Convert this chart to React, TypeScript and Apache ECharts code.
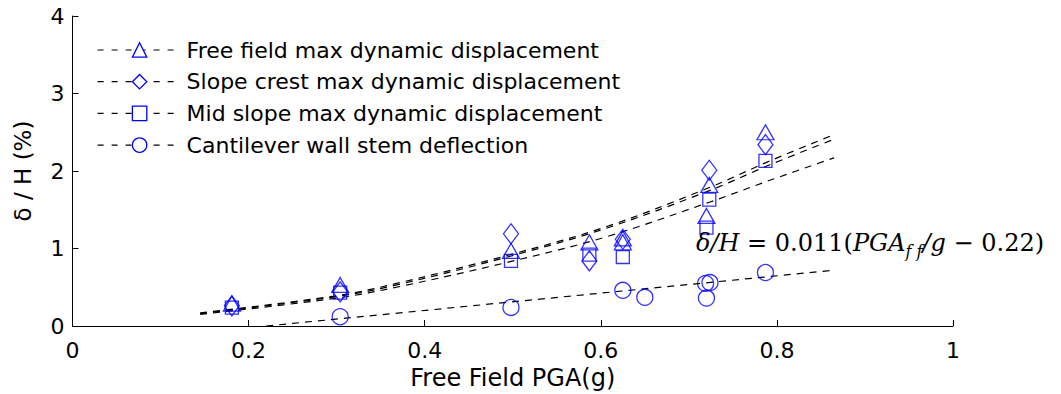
import React, { useEffect, useRef } from 'react';
import * as echarts from 'echarts';

const seriesNames = [
  'Free field max dynamic displacement',
  'Slope crest max dynamic displacement',
  'Mid slope max dynamic displacement',
  'Cantilever wall stem deflection',
];
const seriesSymbols = ['triangle', 'diamond', 'rect', 'circle'];
const xTickLabels = ['0', '0.2', '0.4', '0.6', '0.8', '1'];
const yTickLabels = ['0', '1', '2', '3', '4'];

// measured points (PGA in g, delta/H in %)
const freeFieldPGA = [0.181, 0.304, 0.498, 0.587, 0.625, 0.625, 0.7232, 0.72, 0.787];
const freeFieldDisp = [0.29, 0.53, 0.97, 1.08, 1.13, 1.08, 1.82, 1.42, 2.5];
const slopeCrestPGA = [0.181, 0.304, 0.498, 0.587, 0.625, 0.7232, 0.787];
const slopeCrestDisp = [0.26, 0.44, 1.19, 0.84, 1.12, 2.01, 2.34];
const midSlopePGA = [0.181, 0.304, 0.498, 0.587, 0.625, 0.7232, 0.72, 0.787];
const midSlopeDisp = [0.236, 0.43, 0.84, 0.92, 0.89, 1.63, 1.27, 2.13];
const cantileverPGA = [0.304, 0.498, 0.625, 0.65, 0.719, 0.724, 0.72, 0.787];
const cantileverDisp = [0.12, 0.24, 0.46, 0.37, 0.55, 0.56, 0.36, 0.69];

// fitted trend curves
const fitPGA = [0.145, 0.3, 0.372, 0.497, 0.606, 0.724, 0.792, 0.865];
const freeFieldFit = [0.17, 0.39, 0.56, 0.92, 1.28, 1.79, 2.13, 2.47];
const slopeCrestFit = [0.16, 0.38, 0.54, 0.9, 1.26, 1.75, 2.08, 2.41];
const midSlopeFit = [0.15, 0.36, 0.51, 0.83, 1.15, 1.6, 1.88, 2.17];
const cantileverFitPGA = [0.22, 0.865];
const cantileverFit = [0, 0.72];

const symbolSizes: any[] = [[17, 15], [15, 20], [13, 13], [16, 16]];
const BLUE = '#0000ff';
const FONT = 'DejaVu Sans';
const SERIF = 'DejaVu Serif';

const zip = (xs: number[], ys: number[]) => xs.map((x, i) => [x, ys[i]]);

export default function App() {
  const ref = useRef<HTMLDivElement>(null);
  useEffect(() => {
    if (!ref.current) return;
    const chart = echarts.init(ref.current, null, { renderer: 'svg' });
    const fits = [
      zip(fitPGA, freeFieldFit),
      zip(fitPGA, slopeCrestFit),
      zip(fitPGA, midSlopeFit),
      zip(cantileverFitPGA, cantileverFit),
    ];
    const points = [
      zip(freeFieldPGA, freeFieldDisp),
      zip(slopeCrestPGA, slopeCrestDisp),
      zip(midSlopePGA, midSlopeDisp),
      zip(cantileverPGA, cantileverDisp),
    ];
    const lineSeries = seriesNames.map((name, i) => ({
      name,
      type: 'line',
      data: fits[i],
      smooth: i < 3 ? 0.35 : false,
      showSymbol: false,
      symbol: seriesSymbols[i],
      symbolSize: 14,
      silent: true,
      z: 1,
      itemStyle: { color: 'transparent', borderColor: BLUE, borderWidth: 1.2 },
      lineStyle: { color: '#000', width: 1.2, type: [7, 6] },
    }));
    const scatterSeries = seriesNames.map((name, i) => ({
      name,
      type: 'scatter',
      data: points[i],
      symbol: seriesSymbols[i],
      symbolSize: symbolSizes[i],
      z: 3,
      itemStyle: { color: 'transparent', borderColor: BLUE, borderWidth: 1.3 },
    }));
    chart.setOption({
      animation: false,
      backgroundColor: '#fff',
      textStyle: { fontFamily: FONT, color: '#000' },
      grid: { left: 72.5, right: 108, top: 16, bottom: 68, containLabel: false, outerBoundsMode: 'none' },
      legend: {
        data: seriesNames,
        orient: 'vertical',
        left: 97,
        top: 39,
        padding: 0,
        itemWidth: 84,
        itemHeight: 18,
        itemGap: 9.7,
        textStyle: { fontFamily: FONT, fontSize: 22, color: '#000' },
        itemStyle: { color: '#fff', borderColor: BLUE, borderWidth: 1.3 },
        lineStyle: { color: '#000', width: 1.2, type: [6, 8], opacity: 1 },
      },
      xAxis: {
        type: 'value',
        min: 0,
        max: 1,
        interval: 0.2,
        name: 'Free Field PGA(g)',
        nameLocation: 'middle',
        nameGap: 36,
        nameTextStyle: { fontFamily: FONT, fontSize: 24, color: '#000' },
        axisLine: { show: true, onZero: false, lineStyle: { color: '#000', width: 1 } },
        axisTick: { show: true, inside: true, length: 6, lineStyle: { color: '#000', width: 1 } },
        axisLabel: {
          color: '#000',
          fontFamily: FONT,
          fontSize: 22,
          margin: 13,
          formatter: (v: number) => xTickLabels[Math.round(v / 0.2)] ?? '',
        },
        splitLine: { show: false },
      },
      yAxis: {
        type: 'value',
        min: 0,
        max: 4,
        interval: 1,
        name: 'δ / H (%)',
        nameLocation: 'middle',
        nameGap: 38,
        nameRotate: 90,
        nameTextStyle: { fontFamily: FONT, fontSize: 23, color: '#000' },
        axisLine: { show: true, onZero: false, lineStyle: { color: '#000', width: 1 } },
        axisTick: { show: true, inside: true, length: 6, lineStyle: { color: '#000', width: 1 } },
        axisLabel: {
          color: '#000',
          fontFamily: FONT,
          fontSize: 22,
          margin: 8,
          formatter: (v: number) => yTickLabels[Math.round(v)] ?? '',
        },
        splitLine: { show: false },
      },
      graphic: [
        {
          type: 'text',
          left: 696,
          top: 231,
          z: 10,
          style: {
            text: '{i|δ/H} = 0.011({i|PGA}{s|f f}{i|/g} − 0.22)',
            fontFamily: SERIF,
            fontSize: 24,
            fill: '#000',
            rich: {
              i: { fontFamily: SERIF, fontStyle: 'italic', fontSize: 24 },
              s: { fontFamily: SERIF, fontStyle: 'italic', fontSize: 16, padding: [16, 0, 0, 0] },
            },
          },
        },
      ],
      series: [...lineSeries, ...scatterSeries],
    });
    return () => chart.dispose();
  }, []);
  return (
    <div
      ref={ref}
      style={{ position: 'fixed', left: 0, top: 0, width: 1061, height: 394, background: '#fff' }}
    />
  );
}
